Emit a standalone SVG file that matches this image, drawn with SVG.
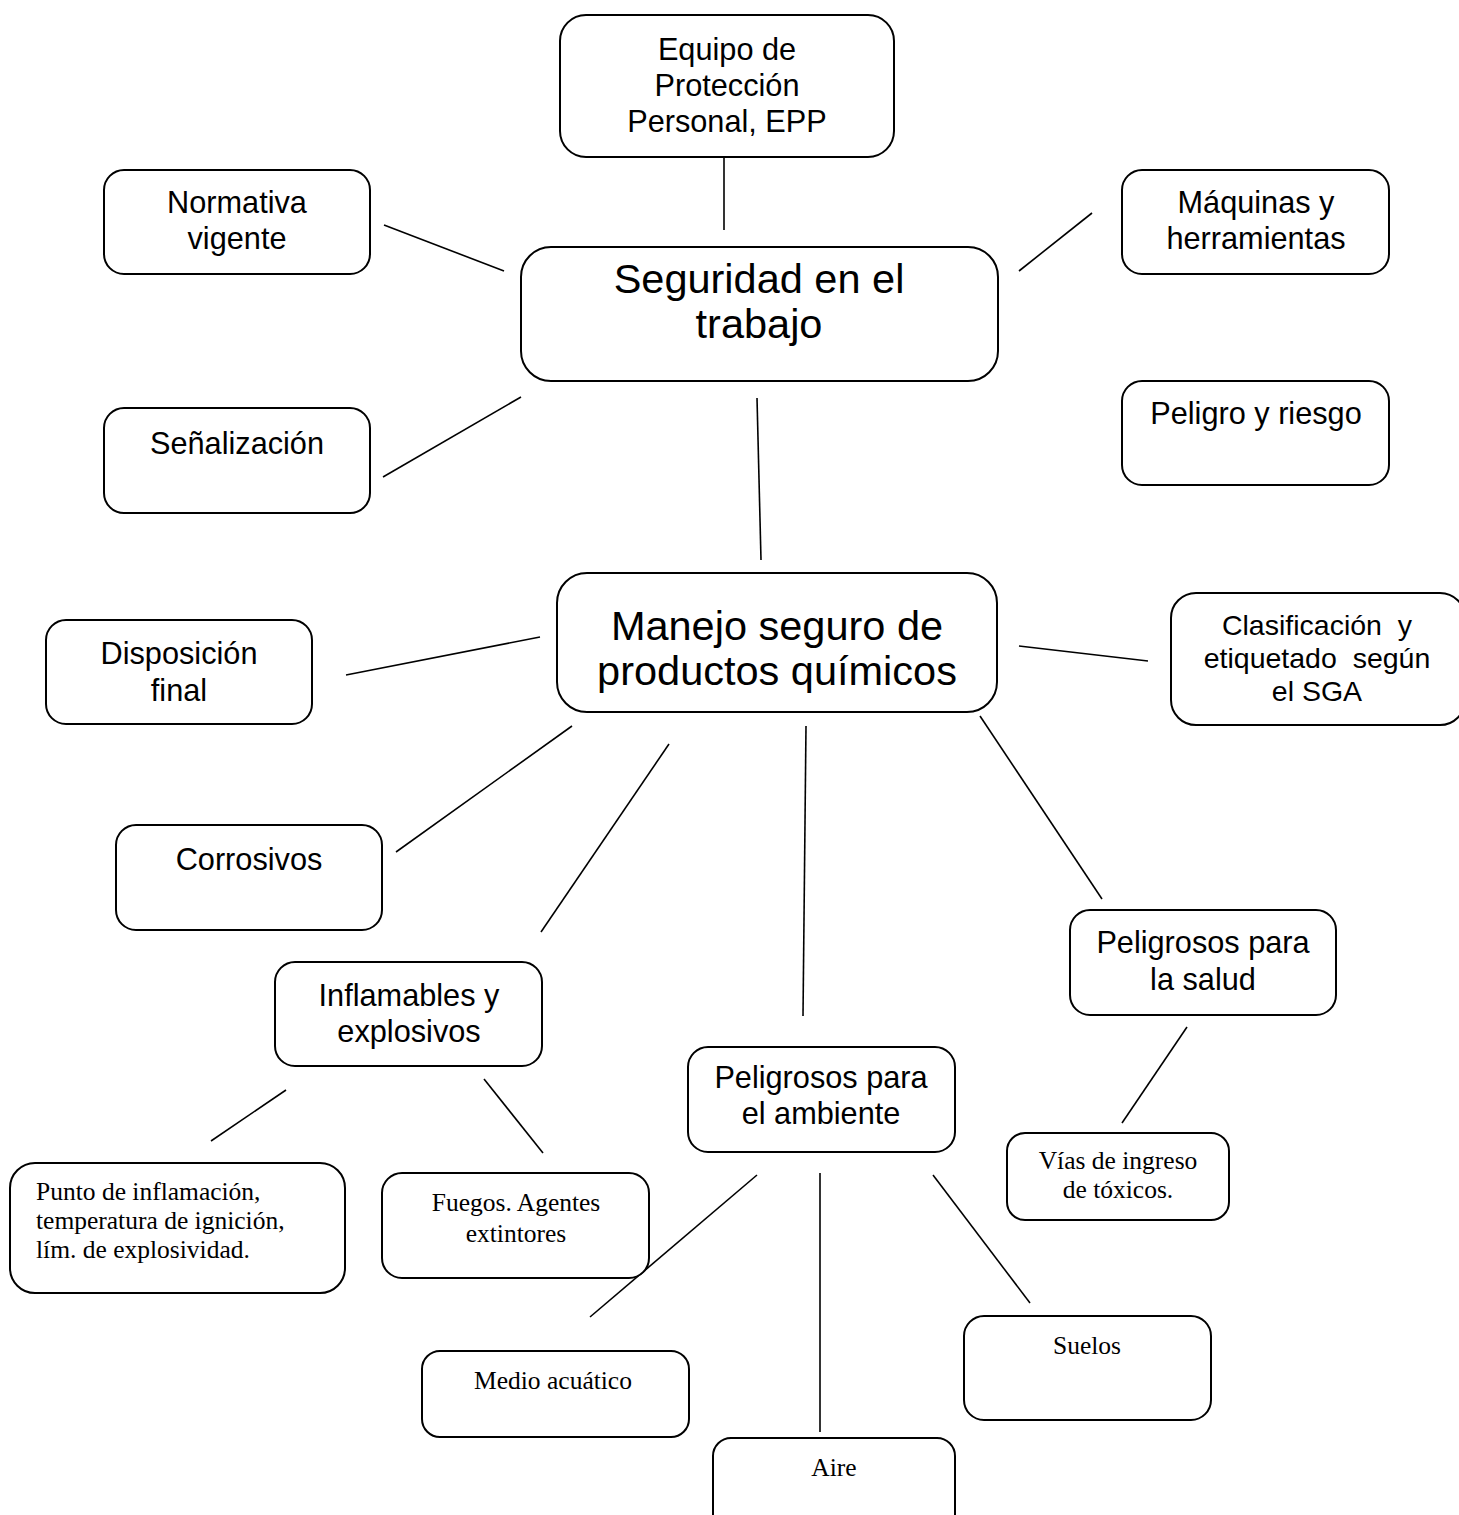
<svg xmlns="http://www.w3.org/2000/svg" width="1459" height="1515" viewBox="0 0 1459 1515">
<style>
.box{fill:#fff;stroke:#000;stroke-width:2}
.s{font-family:"Liberation Sans",Arial,sans-serif;font-size:30.7px;text-anchor:middle;fill:#000}
.big{font-family:"Liberation Sans",Arial,sans-serif;font-size:41.5px;text-anchor:middle;fill:#000}
.cl{font-family:"Liberation Sans",Arial,sans-serif;font-size:28.5px;text-anchor:middle;fill:#000;white-space:pre}
.r{font-family:"Liberation Serif","Times New Roman",serif;font-size:25.5px;text-anchor:middle;fill:#000}
.rl{font-family:"Liberation Serif","Times New Roman",serif;font-size:25.5px;fill:#000}
#connectors line{stroke:#000;stroke-width:1.6}
</style>
<rect width="1459" height="1515" fill="#fff"/>
<g id="connectors">
<line x1="724" y1="152" x2="724" y2="230"/>
<line x1="384" y1="225" x2="504" y2="271"/>
<line x1="383" y1="477" x2="521" y2="397"/>
<line x1="1019" y1="271" x2="1092" y2="213"/>
<line x1="757" y1="398" x2="761" y2="560"/>
<line x1="346" y1="675" x2="540" y2="637"/>
<line x1="1019" y1="646" x2="1148" y2="661"/>
<line x1="396" y1="852" x2="572" y2="726"/>
<line x1="541" y1="932" x2="669" y2="744"/>
<line x1="806" y1="726" x2="803" y2="1016"/>
<line x1="980" y1="716" x2="1102" y2="899"/>
<line x1="211" y1="1141" x2="286" y2="1090"/>
<line x1="484" y1="1079" x2="543" y2="1153"/>
<line x1="590" y1="1317" x2="757" y2="1175"/>
<line x1="820" y1="1173" x2="820" y2="1432"/>
<line x1="933" y1="1175" x2="1030" y2="1303"/>
<line x1="1187" y1="1027" x2="1122" y2="1123"/>
</g>
<g id="epp"><rect class="box" x="560" y="15" width="334" height="142" rx="26"/>
<text class="s" x="727" y="60">Equipo de</text><text class="s" x="727" y="96">Protección</text><text class="s" x="727" y="132">Personal, EPP</text></g>
<g id="normativa"><rect class="box" x="104" y="170" width="266" height="104" rx="20"/>
<text class="s" x="237" y="213">Normativa</text><text class="s" x="237" y="249">vigente</text></g>
<g id="maquinas"><rect class="box" x="1122" y="170" width="267" height="104" rx="20"/>
<text class="s" x="1256" y="213">Máquinas y</text><text class="s" x="1256" y="249">herramientas</text></g>
<g id="seguridad"><rect class="box" x="521" y="247" width="477" height="134" rx="30"/>
<text class="big" x="759" y="293">Seguridad en el</text><text class="big" x="759" y="338">trabajo</text></g>
<g id="peligro"><rect class="box" x="1122" y="381" width="267" height="104" rx="20"/>
<text class="s" x="1256" y="424">Peligro y riesgo</text></g>
<g id="senalizacion"><rect class="box" x="104" y="408" width="266" height="105" rx="20"/>
<text class="s" x="237" y="454">Señalización</text></g>
<g id="manejo"><rect class="box" x="557" y="573" width="440" height="139" rx="30"/>
<text class="big" x="777" y="640">Manejo seguro de</text><text class="big" x="777" y="685">productos químicos</text></g>
<g id="disposicion"><rect class="box" x="46" y="620" width="266" height="104" rx="20"/>
<text class="s" x="179" y="664">Disposición</text><text class="s" x="179" y="701">final</text></g>
<g id="clasificacion"><rect class="box" x="1171" y="593" width="294" height="132" rx="25"/>
<text class="cl" x="1317" y="635">Clasificación  y</text><text class="cl" x="1317" y="668">etiquetado  según</text><text class="cl" x="1317" y="701">el SGA</text></g>
<g id="corrosivos"><rect class="box" x="116" y="825" width="266" height="105" rx="20"/>
<text class="s" x="249" y="870">Corrosivos</text></g>
<g id="salud"><rect class="box" x="1070" y="910" width="266" height="105" rx="20"/>
<text class="s" x="1203" y="953">Peligrosos para</text><text class="s" x="1203" y="990">la salud</text></g>
<g id="inflamables"><rect class="box" x="275" y="962" width="267" height="104" rx="20"/>
<text class="s" x="409" y="1006">Inflamables y</text><text class="s" x="409" y="1042">explosivos</text></g>
<g id="ambiente"><rect class="box" x="688" y="1047" width="267" height="105" rx="20"/>
<text class="s" x="821" y="1088">Peligrosos para</text><text class="s" x="821" y="1124">el ambiente</text></g>
<g id="vias"><rect class="box" x="1007" y="1133" width="222" height="87" rx="18"/>
<text class="r" x="1118" y="1169">Vías de ingreso</text><text class="r" x="1118" y="1198">de tóxicos.</text></g>
<g id="punto"><rect class="box" x="10" y="1163" width="335" height="130" rx="25"/>
<text class="rl" x="36" y="1200">Punto de inflamación,</text><text class="rl" x="36" y="1229">temperatura de ignición,</text><text class="rl" x="36" y="1258">lím. de explosividad.</text></g>
<g id="fuegos"><rect class="box" x="382" y="1173" width="267" height="105" rx="20"/>
<text class="r" x="516" y="1211">Fuegos. Agentes</text><text class="r" x="516" y="1242">extintores</text></g>
<g id="suelos"><rect class="box" x="964" y="1316" width="247" height="104" rx="20"/>
<text class="r" x="1087" y="1354">Suelos</text></g>
<g id="medio"><rect class="box" x="422" y="1351" width="267" height="86" rx="18"/>
<text class="r" x="553" y="1389">Medio acuático</text></g>
<g id="aire"><rect class="box" x="713" y="1438" width="242" height="100" rx="18"/>
<text class="r" x="834" y="1476">Aire</text></g>
</svg>
